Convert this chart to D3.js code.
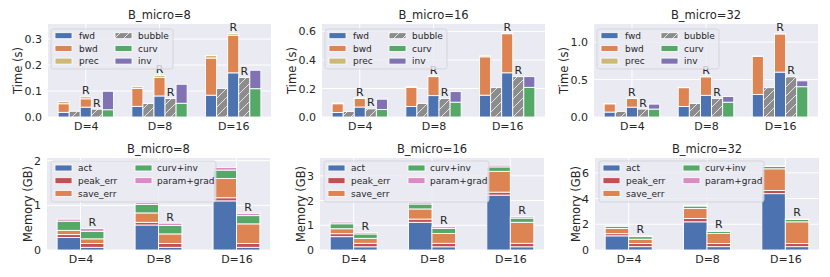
<!DOCTYPE html>
<html><head><meta charset="utf-8">
<script src="https://cdn.jsdelivr.net/npm/d3@7"></script>
<style>
html,body{margin:0;padding:0;background:#fff;}
svg text{font-family:"DejaVu Sans",sans-serif;fill:#262626;}
</style></head>
<body>
<script>
// ---------- data ----------
const groups = ["D=4", "D=8", "D=16"];
const titles = ["B_micro=8", "B_micro=16", "B_micro=32"];

// Time (s): non-recompute bar (fwd/bwd/prec), bubble, recompute "R" bar, R bubble, curv+inv bar
const fwd_8 = [0.018, 0.041, 0.084],  bwd_8 = [0.033, 0.069, 0.143],  prec_8 = [0.009, 0.007, 0.010];
const fwdR_8 = [0.038, 0.081, 0.170], bwdR_8 = [0.032, 0.071, 0.145], precR_8 = [0.008, 0.007, 0.006];
const bubble_8 = [0.022, 0.052, 0.110], bubbleR_8 = [0.030, 0.071, 0.152];
const curv_8 = [0.028, 0.053, 0.109], inv_8 = [0.071, 0.073, 0.071];

const fwd_16 = [0.032, 0.074, 0.153],  bwd_16 = [0.061, 0.134, 0.269],  prec_16 = [0.005, 0.005, 0.008];
const fwdR_16 = [0.070, 0.150, 0.310], bwdR_16 = [0.060, 0.133, 0.274], precR_16 = [0.003, 0.004, 0.004];
const bubble_16 = [0.039, 0.095, 0.206], bubbleR_16 = [0.057, 0.130, 0.283];
const curv_16 = [0.053, 0.104, 0.208], inv_16 = [0.072, 0.074, 0.075];

const fwd_32 = [0.066, 0.141, 0.300],  bwd_32 = [0.110, 0.251, 0.510],  prec_32 = [0.004, 0.004, 0.005];
const fwdR_32 = [0.132, 0.290, 0.600], bwdR_32 = [0.115, 0.247, 0.510], precR_32 = [0.003, 0.003, 0.004];
const bubble_32 = [0.075, 0.180, 0.392], bubbleR_32 = [0.106, 0.247, 0.537];
const curv_32 = [0.106, 0.198, 0.405], inv_32 = [0.066, 0.075, 0.078];

// Memory (GB): [non-R, R] per D
const act_8 = [[0.28, 0.06], [0.56, 0.06], [1.10, 0.06]];
const peak_8 = [[0.065, 0.085], [0.06, 0.085], [0.07, 0.085]];
const save_8 = [[0.095, 0.105], [0.21, 0.215], [0.43, 0.44]];
const curvinv_8 = [[0.205, 0.17], [0.19, 0.19], [0.19, 0.185]];
const param_8 = [[0.045, 0.06], [0.04, 0.05], [0.06, 0.05]];

const act_16 = [[0.54, 0.13], [1.12, 0.13], [2.22, 0.13]];
const peak_16 = [[0.12, 0.14], [0.13, 0.14], [0.12, 0.14]];
const save_16 = [[0.20, 0.20], [0.41, 0.40], [0.84, 0.85]];
const curvinv_16 = [[0.20, 0.18], [0.20, 0.20], [0.18, 0.17]];
const param_16 = [[0.07, 0.06], [0.07, 0.07], [0.07, 0.06]];

const act_32 = [[1.10, 0.26], [2.19, 0.26], [4.38, 0.26]];
const peak_32 = [[0.17, 0.24], [0.26, 0.24], [0.25, 0.24]];
const save_32 = [[0.40, 0.34], [0.77, 0.79], [1.68, 1.69]];
const curvinv_32 = [[0.17, 0.20], [0.20, 0.16], [0.18, 0.18]];
const param_32 = [[0.04, 0.05], [0.05, 0.04], [0.04, 0.05]];

const timeTicks = [[0, 0.1, 0.2, 0.3], [0, 0.2, 0.4, 0.6], [0, 0.5, 1.0]];
const timeMax = [0.358, 0.652, 1.243];
const memTicks = [[0, 1, 2], [0, 1, 2, 3], [0, 2, 4, 6]];
const memMax = [2.06, 3.72, 7.15];

const timeSeries = ["fwd", "bwd", "prec", "bubble", "curv", "inv"];
const memSeries = ["act", "peak_err", "save_err", "curv+inv", "param+grad"];

// ---------- style ----------
const C = {fwd:"#4C72B0", bwd:"#DD8452", prec:"#CCB974", bubble:"#8C8C8C", curv:"#55A868", inv:"#8172B3",
           act:"#4C72B0", peak_err:"#C44E52", save_err:"#DD8452", "curv+inv":"#55A868", "param+grad":"#DA8BC3"};

const svg = d3.select("body").append("svg").attr("width", 830).attr("height", 277);
const defs = svg.append("defs");
const pat = defs.append("pattern").attr("id", "hatch").attr("patternUnits", "userSpaceOnUse")
  .attr("width", 9).attr("height", 9);
pat.append("rect").attr("width", 9).attr("height", 9).attr("fill", C.bubble);
pat.append("path").attr("d", "M-1,10 L10,-1 M-1,1 L1,-1 M8,10 L10,8")
  .attr("stroke", "#e4e4e4").attr("stroke-width", 1);

const fillOf = s => s === "bubble" ? "url(#hatch)" : C[s];

// ---------- panel builder ----------
function panel(o) {
  const g = svg.append("g");
  const x = d3.scaleLinear().domain(o.xdom).range([o.x0, o.x1]);
  const y = d3.scaleLinear().domain([0, o.ymax]).range([o.y1, o.y0]);
  g.append("rect").attr("x", o.x0).attr("y", o.y0).attr("width", o.x1 - o.x0).attr("height", o.y1 - o.y0)
    .attr("fill", "#EAEAF2");
  // grid
  g.selectAll(".hg").data(o.ticks).join("line")
    .attr("x1", o.x0).attr("x2", o.x1).attr("y1", d => y(d)).attr("y2", d => y(d))
    .attr("stroke", "#fff").attr("stroke-width", 1);
  g.selectAll(".vg").data(groups).join("line")
    .attr("x1", (d, i) => x(i)).attr("x2", (d, i) => x(i)).attr("y1", o.y0).attr("y2", o.y1)
    .attr("stroke", "#fff").attr("stroke-width", 1);
  // y axis
  const ya = d3.axisLeft(y).tickValues(o.ticks).tickSize(0).tickPadding(6).tickFormat(o.fmt);
  const yg = g.append("g").attr("transform", `translate(${o.x0},0)`).call(ya);
  yg.select(".domain").remove();
  yg.selectAll("text").style("font-size", "11px").attr("fill", "#262626").style("font-family", "DejaVu Sans");
  // x axis
  const xa = d3.axisBottom(x).tickValues([0, 1, 2]).tickSize(0).tickPadding(5).tickFormat(i => groups[i]);
  const xg = g.append("g").attr("transform", `translate(0,${o.y1})`).call(xa);
  xg.select(".domain").remove();
  xg.selectAll("text").style("font-size", "11px").attr("fill", "#262626").style("font-family", "DejaVu Sans");
  // bars
  o.bars.forEach(b => {
    let acc = 0;
    b.segs.forEach(sg => {
      const lo = acc, hi = acc + sg.v; acc = hi;
      g.append("rect")
        .attr("x", x(b.pos - o.bw / 2)).attr("width", x(b.pos + o.bw / 2) - x(b.pos - o.bw / 2))
        .attr("y", y(hi)).attr("height", y(lo) - y(hi))
        .attr("fill", fillOf(sg.s)).attr("stroke", "#fff").attr("stroke-width", 0.9);
    });
    if (b.R) {
      g.append("text").attr("x", x(b.pos)).attr("y", y(acc) - 2.5).attr("text-anchor", "middle")
        .style("font-size", "11px").text("R");
    }
  });
  // title
  g.append("text").attr("x", (o.x0 + o.x1) / 2).attr("y", o.y0 - 5).attr("text-anchor", "middle")
    .style("font-size", "11.5px").text(o.title);
  // y label
  g.append("text").attr("transform", `translate(${o.x0 - o.ylabOff},${(o.y0 + o.y1) / 2}) rotate(-90)`)
    .attr("text-anchor", "middle").style("font-size", "11.5px").text(o.ylabel);
  // legend
  const L = o.leg;
  g.append("rect").attr("x", o.x0 + L.bx0).attr("y", o.y0 + L.by0).attr("width", L.bx1 - L.bx0)
    .attr("height", L.by1 - L.by0).attr("rx", 2.5)
    .attr("fill", "#EAEAF2").attr("fill-opacity", 0.8).attr("stroke", "#cfcfd6").attr("stroke-width", 0.8);
  o.legItems.forEach((s, i) => {
    const col = Math.floor(i / 3), row = i % 3;
    const hx = o.x0 + L.hx[col], cy = o.y0 + L.row0 + row * 12.7;
    g.append("rect").attr("x", hx).attr("y", cy - 3).attr("width", 17).attr("height", 6)
      .attr("fill", fillOf(s)).attr("stroke", "#fff").attr("stroke-width", 0.8);
    g.append("text").attr("x", o.x0 + L.tx[col]).attr("y", cy + 3.3).style("font-size", "9px").text(s);
  });
}

// ---------- time panels ----------
const timeData = [
  [fwd_8, bwd_8, prec_8, bubble_8, fwdR_8, bwdR_8, precR_8, bubbleR_8, curv_8, inv_8],
  [fwd_16, bwd_16, prec_16, bubble_16, fwdR_16, bwdR_16, precR_16, bubbleR_16, curv_16, inv_16],
  [fwd_32, bwd_32, prec_32, bubble_32, fwdR_32, bwdR_32, precR_32, bubbleR_32, curv_32, inv_32]
];
const topX = [[48, 271], [322, 545], [594, 818]];
timeData.forEach((td, p) => {
  const [fw, bw, pr, bu, fwR, bwR, prR, buR, cu, iv] = td;
  const bars = [];
  const bw15 = 0.15;
  groups.forEach((gname, i) => {
    bars.push({pos: i - 2 * bw15, segs: [{s:"fwd", v:fw[i]}, {s:"bwd", v:bw[i]}, {s:"prec", v:pr[i]}]});
    bars.push({pos: i - bw15, segs: [{s:"bubble", v:bu[i]}]});
    bars.push({pos: i, R: true, segs: [{s:"fwd", v:fwR[i]}, {s:"bwd", v:bwR[i]}, {s:"prec", v:prR[i]}]});
    bars.push({pos: i + bw15, R: true, segs: [{s:"bubble", v:buR[i]}]});
    bars.push({pos: i + 2 * bw15, segs: [{s:"curv", v:cu[i]}, {s:"inv", v:iv[i]}]});
  });
  panel({x0: topX[p][0], x1: topX[p][1], y0: 24, y1: 117, xdom: [-0.5125, 2.5125], bw: bw15,
    ymax: timeMax[p], ticks: timeTicks[p], fmt: d3.format(".1f"), bars, title: titles[p],
    ylabel: "Time (s)", ylabOff: 26,
    leg: {bx0: 3, bx1: 125, by0: 5, by1: 45, row0: 11.7, hx: [7, 67], tx: [31, 90]},
    legItems: timeSeries});
});

// ---------- memory panels ----------
const memData = [
  [act_8, peak_8, save_8, curvinv_8, param_8],
  [act_16, peak_16, save_16, curvinv_16, param_16],
  [act_32, peak_32, save_32, curvinv_32, param_32]
];
const botX = [[47, 270], [320, 544], [595, 819]];
memData.forEach((md, p) => {
  const bars = [];
  const w = 0.3;
  groups.forEach((gname, i) => {
    [0, 1].forEach(k => {
      bars.push({pos: i + (k === 0 ? -w / 2 : w / 2), R: k === 1,
        segs: memSeries.map((s, j) => ({s, v: md[j][i][k]}))});
    });
  });
  panel({x0: botX[p][0], x1: botX[p][1], y0: 158, y1: 250, xdom: [-0.43, 2.43], bw: w,
    ymax: memMax[p], ticks: memTicks[p], fmt: d3.format("d"), bars, title: titles[p],
    ylabel: "Memory (GB)", ylabOff: 15,
    leg: {bx0: 4, bx1: 169, by0: 3, by1: 44, row0: 10, hx: [8, 88], tx: [31, 110]},
    legItems: memSeries});
});
</script>
</body></html>
